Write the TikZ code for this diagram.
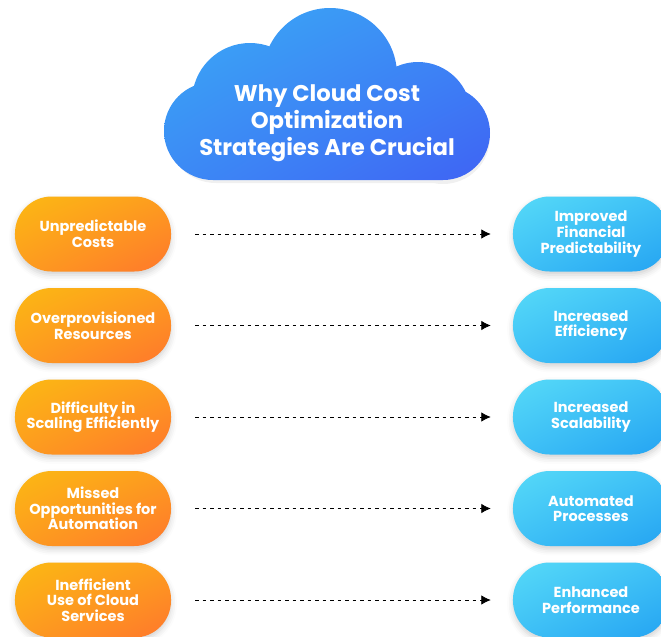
\documentclass[tikz,border=0pt]{standalone}
\usepackage{fontspec}
\setmainfont{Poppins}
\usepackage{tikz}
\usetikzlibrary{arrows.meta,positioning,shadings,shadows.blur}

\definecolor{cloudA}{HTML}{3AABF6}
\definecolor{cloudB}{HTML}{3C8AF5}
\definecolor{cloudC}{HTML}{3F63F4}
\definecolor{costA}{HTML}{FCB913}
\definecolor{costB}{HTML}{FD9C1F}
\definecolor{costC}{HTML}{FF772C}
\definecolor{gainA}{HTML}{56DAF8}
\definecolor{gainB}{HTML}{3EC0F6}
\definecolor{gainC}{HTML}{24A3F2}

\begin{document}
\begin{tikzpicture}[
  x=0.03cm, y=0.03cm,
  font=\bfseries,
  >=Latex,
  pill/.style={rounded corners=1.1cm, minimum width=4.68cm, minimum height=2.25cm, align=center, text=white, inner sep=2pt,
    font=\fontsize{12.4}{13.3}\selectfont\bfseries,
    blur shadow={shadow xshift=0pt, shadow yshift=-3pt, shadow opacity=18, shadow blur radius=5pt}},
  cost/.style={pill, upper left=costA, upper right=costB, lower left=costB, lower right=costC},
  gain/.style={pill, upper left=gainA, upper right=gainB, lower left=gainB, lower right=gainC},
  flow_arr/.style={-{Latex[length=8pt, width=8pt]}, line width=0.6pt, dash pattern=on 3.2pt off 3.2pt, shorten <=0.72cm, shorten >=0.66cm}
]
  \useasboundingbox (0,0) rectangle (661,-637);
  \clip (0,0) rectangle (661,-637);

  % Cloud header
  \fill[black, opacity=0.06] (216,-134) circle[radius=49] (252,-104) circle[radius=58]
    (330,-79) circle[radius=67] (418,-119) circle[radius=53] (443,-137) circle[radius=47]
    (216,-183) -- (443,-183) -- (443,-104) -- (216,-104) -- cycle;
  \shade[upper left=cloudA, upper right=cloudB, lower left=cloudB, lower right=cloudC]
    (213,-131) circle[radius=49] (250,-101) circle[radius=58]
    (330,-75) circle[radius=67] (418,-115) circle[radius=53] (443,-133) circle[radius=47]
    (213,-180) -- (443,-180) -- (443,-100) -- (213,-100) -- cycle;
  \node[align=center, text=white, font=\fontsize{19.4}{23}\selectfont\bfseries] (title) at (327,-123)
    {Why Cloud Cost\\Optimization\\Strategies Are Crucial};

  % Left column: problems
  \node[cost] (c1) at (93,-234) {Unpredictable\\Costs};
  \node[cost] (c2) at (93,-325.5) {Overprovisioned\\Resources};
  \node[cost] (c3) at (93,-417) {Difficulty in\\Scaling Efficiently};
  \node[cost] (c4) at (93,-508.5) {Missed\\Opportunities for\\Automation};
  \node[cost] (c5) at (93,-600) {Inefficient\\Use of Cloud\\Services};

  % Right column: outcomes
  \node[gain] (g1) at (591,-234) {Improved\\Financial\\Predictability};
  \node[gain] (g2) at (591,-325.5) {Increased\\Efficiency};
  \node[gain] (g3) at (591,-417) {Increased\\Scalability};
  \node[gain] (g4) at (591,-508.5) {Automated\\Processes};
  \node[gain] (g5) at (591,-600) {Enhanced\\Performance};

  % Dashed links
  \draw[flow_arr] (c1.east) -- (g1.west);
  \draw[flow_arr] (c2.east) -- (g2.west);
  \draw[flow_arr] (c3.east) -- (g3.west);
  \draw[flow_arr] (c4.east) -- (g4.west);
  \draw[flow_arr] (c5.east) -- (g5.west);
\end{tikzpicture}
\end{document}
